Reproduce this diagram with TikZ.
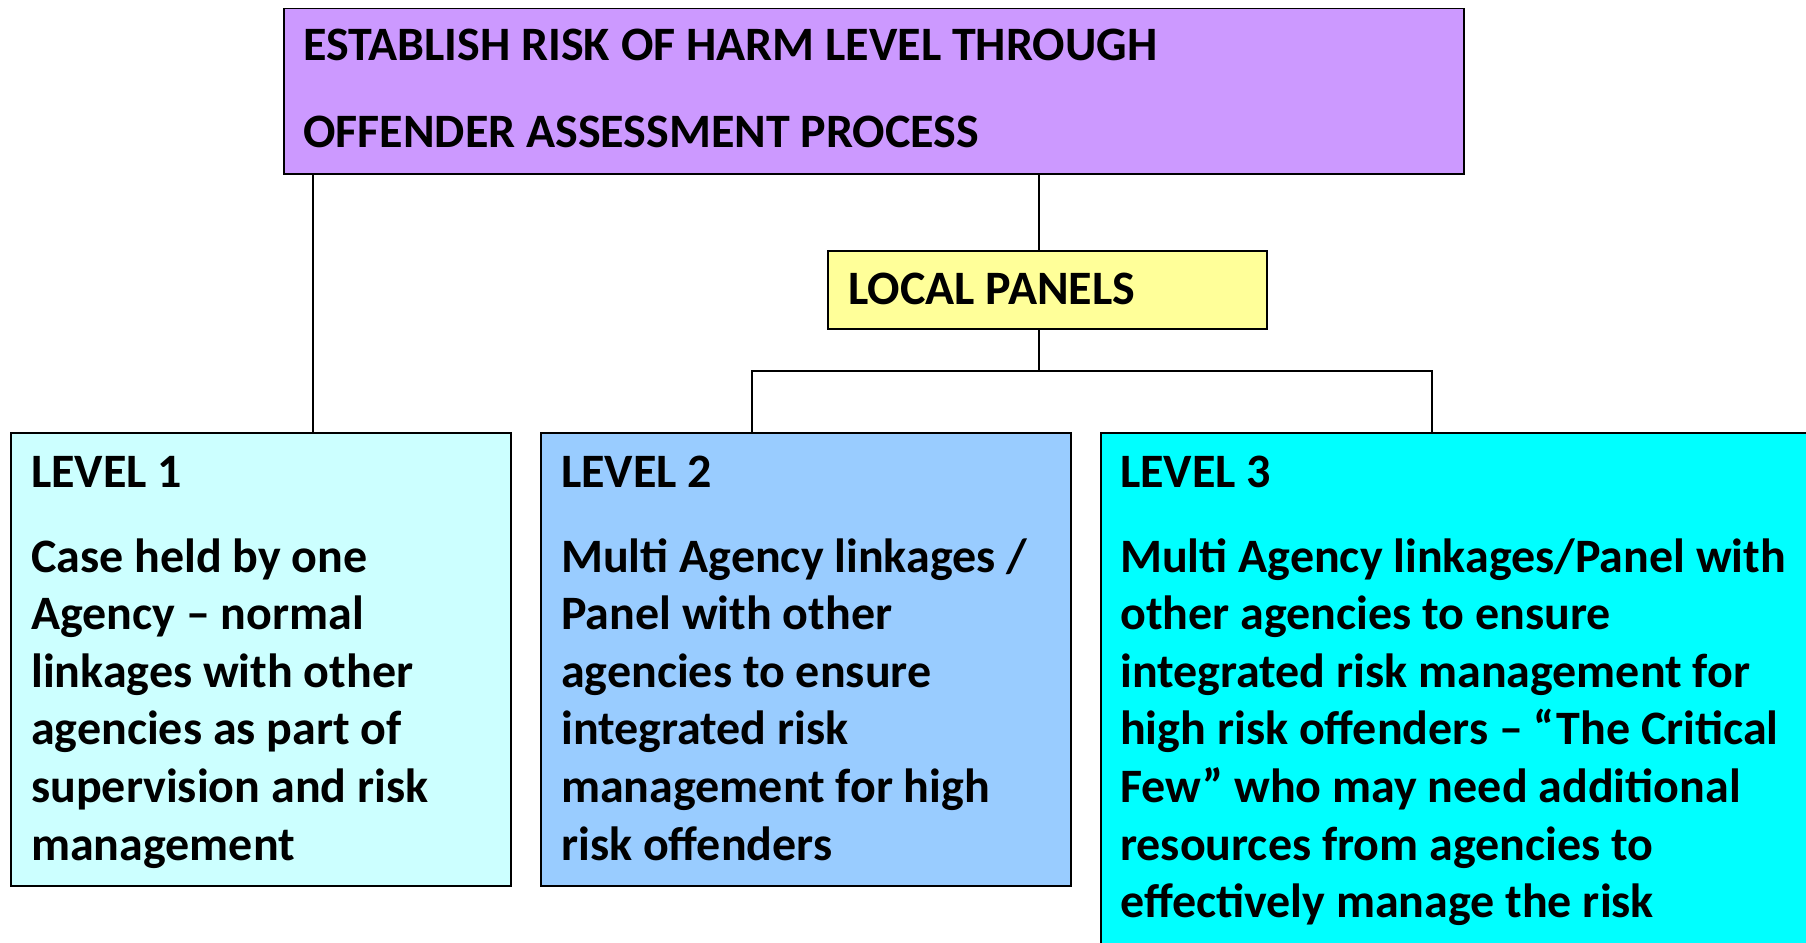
\documentclass[tikz,border=0pt]{standalone}
\usepackage{fontspec}
\setmainfont{Carlito}
\definecolor{topc}{HTML}{CC99FF}
\definecolor{panc}{HTML}{FFFF99}
\definecolor{lonec}{HTML}{CCFFFF}
\definecolor{ltwoc}{HTML}{99CCFF}
\definecolor{lthreec}{HTML}{00FFFF}
\begin{document}
\begin{tikzpicture}[x=1pt,y=-1pt,
  box/.style={draw=black,line width=1.5pt,anchor=north west,inner sep=0pt},
  txt/.style={anchor=base west,inner sep=0pt,align=left,
    font=\fontsize{48}{57.6}\bfseries\selectfont},
  ttl/.style={anchor=base west,inner sep=0pt,
    font=\fontsize{48}{57.6}\bfseries\selectfont},
  conn/.style={draw=black,line width=1.5pt}]
\useasboundingbox (0,0) rectangle (1806,942);
\clip (0,0) rectangle (1806,942);
\node[box,fill=topc,minimum width=1180pt,minimum height=165pt] (top) at (283,8) {};
\node[ttl] (t1) at (303,61) {ESTABLISH RISK OF HARM LEVEL THROUGH};
\node[ttl] (t2) at (303,147) {OFFENDER ASSESSMENT PROCESS};
\node[box,fill=panc,minimum width=439pt,minimum height=78pt] (pan) at (827,250) {};
\node[ttl] (pt) at (848,304) {LOCAL PANELS};
\node[box,fill=lonec,minimum width=500pt,minimum height=453pt] (lone) at (10,432) {};
\node[box,fill=ltwoc,minimum width=530pt,minimum height=453pt] (ltwo) at (540,432) {};
\node[box,fill=lthreec,minimum width=730pt,minimum height=530pt] (lthree) at (1100,432) {};
\node[ttl] (h1) at (31,487) {LEVEL 1};
\node[txt] (b1) at (31,860) {Case held by one\\Agency -- normal\\linkages with other\\agencies as part of\\supervision and risk\\management};
\node[ttl] (h2) at (561,487) {LEVEL 2};
\node[txt] (b2) at (561,860) {Multi Agency linkages /\\Panel with other\\agencies to ensure\\integrated risk\\management for high\\risk offenders};
\node[ttl] (h3) at (1120,487) {LEVEL 3};
\node[txt] (b3) at (1120,917.6) {Multi Agency linkages/Panel with\\other agencies to ensure\\integrated risk management for\\high risk offenders -- “The Critical\\Few” who may need additional\\resources from agencies to\\effectively manage the risk};
% connectors
\coordinate (ltop) at (313,173);
\coordinate (lbot) at (313,432);
\coordinate (mtop) at (1039,173);
\coordinate (split) at (1039,371);
\coordinate (two) at (752,432);
\coordinate (three) at (1432,432);
\draw[conn] (ltop) -- (lbot);
\draw[conn] (mtop) -- (mtop |- pan.north);
\draw[conn] (mtop |- pan.south) -- (split);
\draw[conn] (two) |- (split) -| (three);
\end{tikzpicture}
\end{document}
